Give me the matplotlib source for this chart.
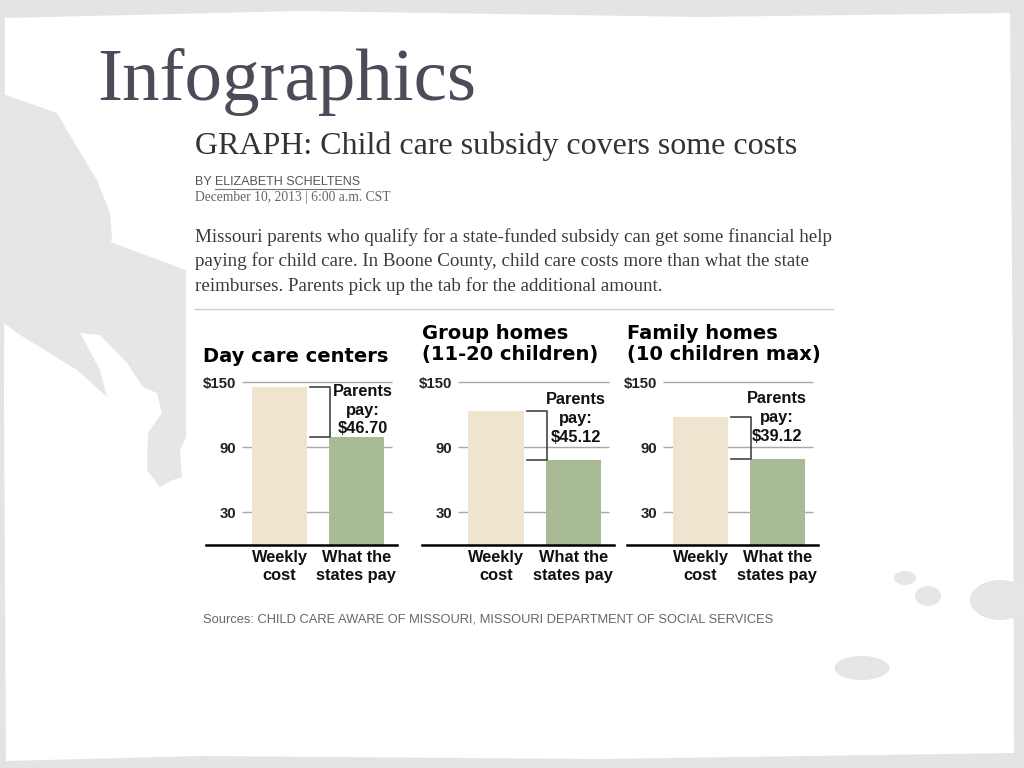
import matplotlib
matplotlib.use('Agg')
import matplotlib.pyplot as plt
from matplotlib.patches import Polygon, Ellipse

# data
panel_titles = ['Day care centers', 'Group homes\n(11-20 children)', 'Family homes\n(10 children max)']
categories = ['Weekly\ncost', 'What the\nstates pay']
weekly_cost = [146.0, 123.5, 118.3]
state_pays = [99.3, 78.4, 79.2]
parents_pay = [46.70, 45.12, 39.12]
y_ticks = [30, 90, 150]
y_tick_labels = ['30', '90', '$150']

paragraph = [
    'Missouri parents who qualify for a state-funded subsidy can get some financial help',
    'paying for child care. In Boone County, child care costs more than what the state',
    'reimburses. Parents pick up the tab for the additional amount.',
]

# colours
BEIGE = '#efe4cd'
GREEN = '#a9bb95'
GRID = '#a8a8a8'
SHADE = '#e6e6e6'

W, H = 1024, 768
fig = plt.figure(figsize=(W / 100, H / 100), dpi=100, facecolor='#e4e4e4')

# background slide, drawn in pixel coords
bg = fig.add_axes([0, 0, 1, 1])
bg.set_xlim(0, W)
bg.set_ylim(H, 0)
bg.axis('off')
bg.add_patch(Polygon([(5, 18), (300, 11), (700, 17), (1010, 13), (1013, 400), (1014, 753),
                      (600, 759), (200, 756), (6, 761), (4, 400)], closed=True,
                     facecolor='white', edgecolor='none'))
bg.add_patch(Polygon([(0, 93), (57, 113), (77, 147), (97, 180), (110, 213), (112, 240), (110, 242),
                      (186, 270), (186, 437), (180, 450), (182, 477), (173, 480), (160, 487),
                      (147, 470), (148, 433), (162, 413), (157, 393), (143, 387), (127, 363),
                      (100, 335), (80, 333), (100, 370), (107, 397), (77, 370), (17, 333), (0, 320)],
                     closed=True, facecolor=SHADE, edgecolor='none'))
for (cx, cy, w, h) in [(905, 578, 22, 14), (928, 596, 26, 20), (1000, 600, 60, 40), (862, 668, 55, 24)]:
    bg.add_patch(Ellipse((cx, cy), w, h, facecolor=SHADE, edgecolor='none'))

bg.text(97, 100, 'Infographics', fontsize=54, family='Liberation Serif', color='#4b4b59', va='baseline')

# article header
bg.text(195, 146, 'GRAPH: Child care subsidy covers some costs', fontsize=23,
        family='Liberation Serif', color='#333333', va='center')
by = bg.text(195, 182, 'BY ', fontsize=9, family='Liberation Sans', color='#555555', va='center')
fig.canvas.draw()
r = fig.canvas.get_renderer()
x_name = by.get_window_extent(r).x1
name = bg.text(x_name, 182, 'ELIZABETH SCHELTENS', fontsize=9, family='Liberation Sans',
               color='#555555', va='center')
ext = name.get_window_extent(r)
bg.plot([ext.x0, ext.x1], [189, 189], color='#777777', lw=0.8)
bg.text(195, 198, 'December 10, 2013 | 6:00 a.m. CST', fontsize=9.8, family='Liberation Serif',
        color='#666666', va='center')
for i, line in enumerate(paragraph):
    bg.text(195, 237 + 24.5 * i, line, fontsize=13.7, family='Liberation Serif', color='#3a3a3a', va='center')
bg.plot([195, 833], [309, 309], color='#cccccc', lw=1)

# panels
panel_left = [206, 422, 627]
panel_width = [191, 192, 191]
title_y = [356, 344, 344]
text_pos = [(1.09, 148.5), (1.03, 140.5), (0.99, 142)]

for i in range(3):
    ax = fig.add_axes([panel_left[i] / W, (H - 545) / H, panel_width[i] / W, (545 - 380) / H])
    ax.set_xlim(-0.96, 1.53)
    ax.set_ylim(0, 152)
    for s in ax.spines.values():
        s.set_visible(False)
    ax.patch.set_alpha(0)

    ax.hlines(y_ticks, -0.49, 1.47, color=GRID, lw=1, zorder=1)
    ax.bar([0, 1], [weekly_cost[i], state_pays[i]], width=0.714, color=[BEIGE, GREEN], zorder=2)
    ax.axhline(0, color='black', lw=1.8, zorder=3, clip_on=False)

    # bracket showing what parents pay
    ax.plot([0.40, 0.66, 0.66, 0.40], [weekly_cost[i], weekly_cost[i], state_pays[i], state_pays[i]],
            color='#444444', lw=1.2, zorder=3)
    ax.text(text_pos[i][0], text_pos[i][1], 'Parents\npay:\n$%.2f' % parents_pay[i],
            ha='center', va='top', fontsize=11.8, weight='bold', family='Liberation Sans',
            color='#111111', linespacing=1.32)

    ax.set_yticks(y_ticks, y_tick_labels)
    ax.set_xticks([0, 1], categories)
    ax.tick_params(axis='y', length=0, pad=-21.5, labelsize=10.8, labelcolor='#222222')
    ax.tick_params(axis='x', length=0, pad=3.5, labelsize=11.8, labelcolor='#111111')
    for lbl in ax.get_yticklabels() + ax.get_xticklabels():
        lbl.set_family('Liberation Sans')
        lbl.set_weight('bold')
    for lbl in ax.get_xticklabels():
        lbl.set_linespacing(1.3)
        lbl.set_verticalalignment('top')

    bg.text(panel_left[i] - 3 if i == 0 else panel_left[i], title_y[i], panel_titles[i],
            fontsize=14, weight='bold', family='DejaVu Sans', color='black',
            va='center', linespacing=1.1)

bg.text(203, 619, 'Sources: CHILD CARE AWARE OF MISSOURI, MISSOURI DEPARTMENT OF SOCIAL SERVICES',
        fontsize=9.25, family='Liberation Sans', color='#666666', va='center')

fig.savefig('out.png', dpi=100, facecolor=fig.get_facecolor())
